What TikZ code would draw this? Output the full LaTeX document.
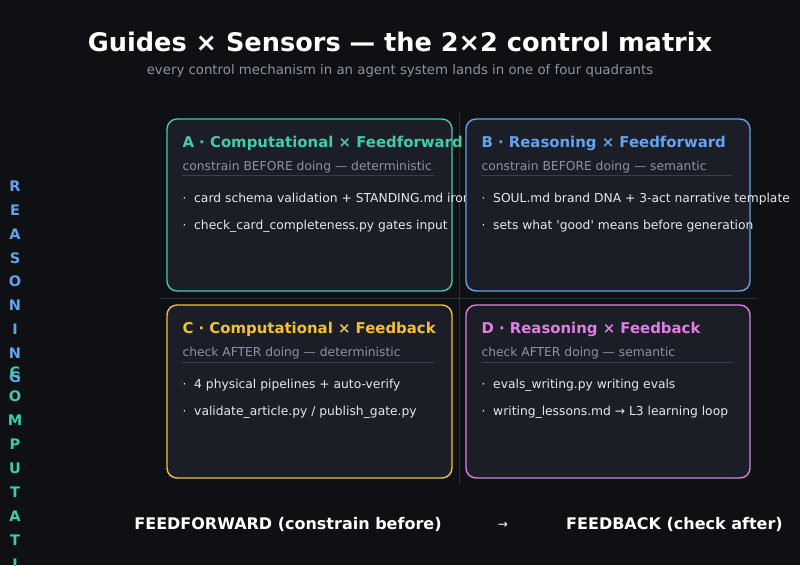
\documentclass[tikz,border=0pt]{standalone}
\usepackage{fontspec}
\setmainfont{DejaVu Sans}
\newfontfamily\dejaplain{DejaVu Sans}
\usetikzlibrary{calc}
\definecolor{bg}{HTML}{0E1014}
\definecolor{boxbg}{HTML}{1B1E26}
\definecolor{cA}{HTML}{3FCCAC}
\definecolor{cB}{HTML}{62A2EE}
\definecolor{cC}{HTML}{F2C232}
\definecolor{cD}{HTML}{E07EE4}
\definecolor{subgrey}{HTML}{8B94A3}
\definecolor{itemtext}{HTML}{E6E8EE}
\definecolor{axisline}{HTML}{2B303B}
\definecolor{sepline}{HTML}{3A3F4C}
\tikzset{
  qbox/.style={rounded corners=10pt, line width=1.4pt, fill=boxbg, minimum width=285pt, minimum height=172pt, inner sep=0pt},
  qtitle/.style={anchor=base west, inner sep=0pt, font=\fontsize{14.9}{17}\selectfont\bfseries},
  qsub/.style={anchor=base west, inner sep=0pt, text=subgrey, font=\fontsize{12.3}{15}\selectfont},
  qitem/.style={anchor=base west, inner sep=0pt, text=itemtext, font=\fontsize{12.3}{15}\selectfont},
  qline/.style={draw=sepline, line width=0.8pt},
  axis/.style={draw=axisline, line width=1pt},
  vlet/.style={anchor=base, inner sep=0pt, font=\fontsize{14.5}{16}\selectfont\bfseries},
  bottomlab/.style={anchor=base, inner sep=0pt, text=white, font=\fontsize{16}{18}\selectfont\bfseries}
}
\begin{document}
\begin{tikzpicture}[x=1pt,y=-1pt]
\fill[bg] (0,0) rectangle (800,565);
\useasboundingbox (0,0) rectangle (800,565);

% title
\node[anchor=base, inner sep=0pt, text=white, font=\fontsize{25.6}{30}\selectfont\bfseries] (title) at (400,51.3) {Guides × Sensors — the 2×2 control matrix};
\node[anchor=base, inner sep=0pt, text=subgrey, font=\fontsize{13.3}{15}\selectfont] (subtitle) at (400,74.5) {every control mechanism in an agent system lands in one of four quadrants};

% axes
\coordinate (vtop) at (459,112);
\coordinate (vbot) at (459,485);
\coordinate (hleft) at (160,298);
\coordinate (hright) at (757,298);
\draw[axis] (vtop) -- (vbot);
\draw[axis] (hleft) -- (hright);

% A
\node[qbox, draw=cA] (A) at (309.5,205) {};
\node[qtitle, text=cA] (Atitle) at ($(A.north west)+(16,29.5)$) {A · Computational × Feedforward};
\node[qsub] (Asub) at ($(A.north west)+(16,52)$) {constrain BEFORE doing — deterministic};
\coordinate (Al1) at ($(A.north west)+(16,57.5)$);
\coordinate (Al2) at ($(A.north west)+(268,57.5)$);
\draw[qline] (Al1) -- (Al2);
\node[qitem] (Ai1) at ($(A.north west)+(16,84)$) {·\ \ card schema validation + STANDING.md iron};
\node[qitem] (Ai2) at ($(A.north west)+(16,111)$) {·\ \ check\_card\_completeness.py gates input};

% B
\node[qbox, draw=cB, minimum width=284pt] (B) at (608,205) {};
\node[qtitle, text=cB] (Btitle) at ($(B.north west)+(16,29.5)$) {B · Reasoning × Feedforward};
\node[qsub] (Bsub) at ($(B.north west)+(16,52)$) {constrain BEFORE doing — semantic};
\coordinate (Bl1) at ($(B.north west)+(16,57.5)$);
\coordinate (Bl2) at ($(B.north west)+(268,57.5)$);
\draw[qline] (Bl1) -- (Bl2);
\node[qitem] (Bi1) at ($(B.north west)+(16,84)$) {·\ \ SOUL.md brand DNA + 3-act narrative template};
\node[qitem] (Bi2) at ($(B.north west)+(16,111)$) {\dejaplain ·\ \ sets what 'good' means before generation};

% C
\node[qbox, draw=cC, minimum height=173pt] (C) at (309.5,391.5) {};
\node[qtitle, text=cC] (Ctitle) at ($(C.north west)+(16,29.5)$) {C · Computational × Feedback};
\node[qsub] (Csub) at ($(C.north west)+(16,52.5)$) {check AFTER doing — deterministic};
\coordinate (Cl1) at ($(C.north west)+(16,58)$);
\coordinate (Cl2) at ($(C.north west)+(268,58)$);
\draw[qline] (Cl1) -- (Cl2);
\node[qitem] (Ci1) at ($(C.north west)+(16,84)$) {·\ \ 4 physical pipelines + auto-verify};
\node[qitem] (Ci2) at ($(C.north west)+(16,111)$) {·\ \ validate\_article.py / publish\_gate.py};

% D
\node[qbox, draw=cD, minimum width=284pt, minimum height=173pt] (D) at (608,391.5) {};
\node[qtitle, text=cD] (Dtitle) at ($(D.north west)+(16,29.5)$) {D · Reasoning × Feedback};
\node[qsub] (Dsub) at ($(D.north west)+(16,52.5)$) {check AFTER doing — semantic};
\coordinate (Dl1) at ($(D.north west)+(16,58)$);
\coordinate (Dl2) at ($(D.north west)+(268,58)$);
\draw[qline] (Dl1) -- (Dl2);
\node[qitem] (Di1) at ($(D.north west)+(16,84)$) {·\ \ evals\_writing.py writing evals};
\node[qitem] (Di2) at ($(D.north west)+(16,111)$) {·\ \ writing\_lessons.md → L3 learning loop};

% vertical labels
\foreach \l [count=\i] in {R,E,A,S,O,N,I,N,G}
  \node[vlet, text=cB] (r\i) at (15,{191.3+23.9*(\i-1)}) {\l};
\foreach \l [count=\i] in {C,O,M,P,U,T,A,T,I,O,N,A,L}
  \node[vlet, text=cA] (c\i) at (15,{377.3+24*(\i-1)}) {\l};

% bottom labels
\node[bottomlab] (ff) at (288,529) {FEEDFORWARD (constrain before)};
\node[bottomlab, font=\fontsize{12}{15}\selectfont] (arr) at (503,528) {→};
\node[bottomlab] (fb) at (674.5,529) {FEEDBACK (check after)};
\end{tikzpicture}
\end{document}
